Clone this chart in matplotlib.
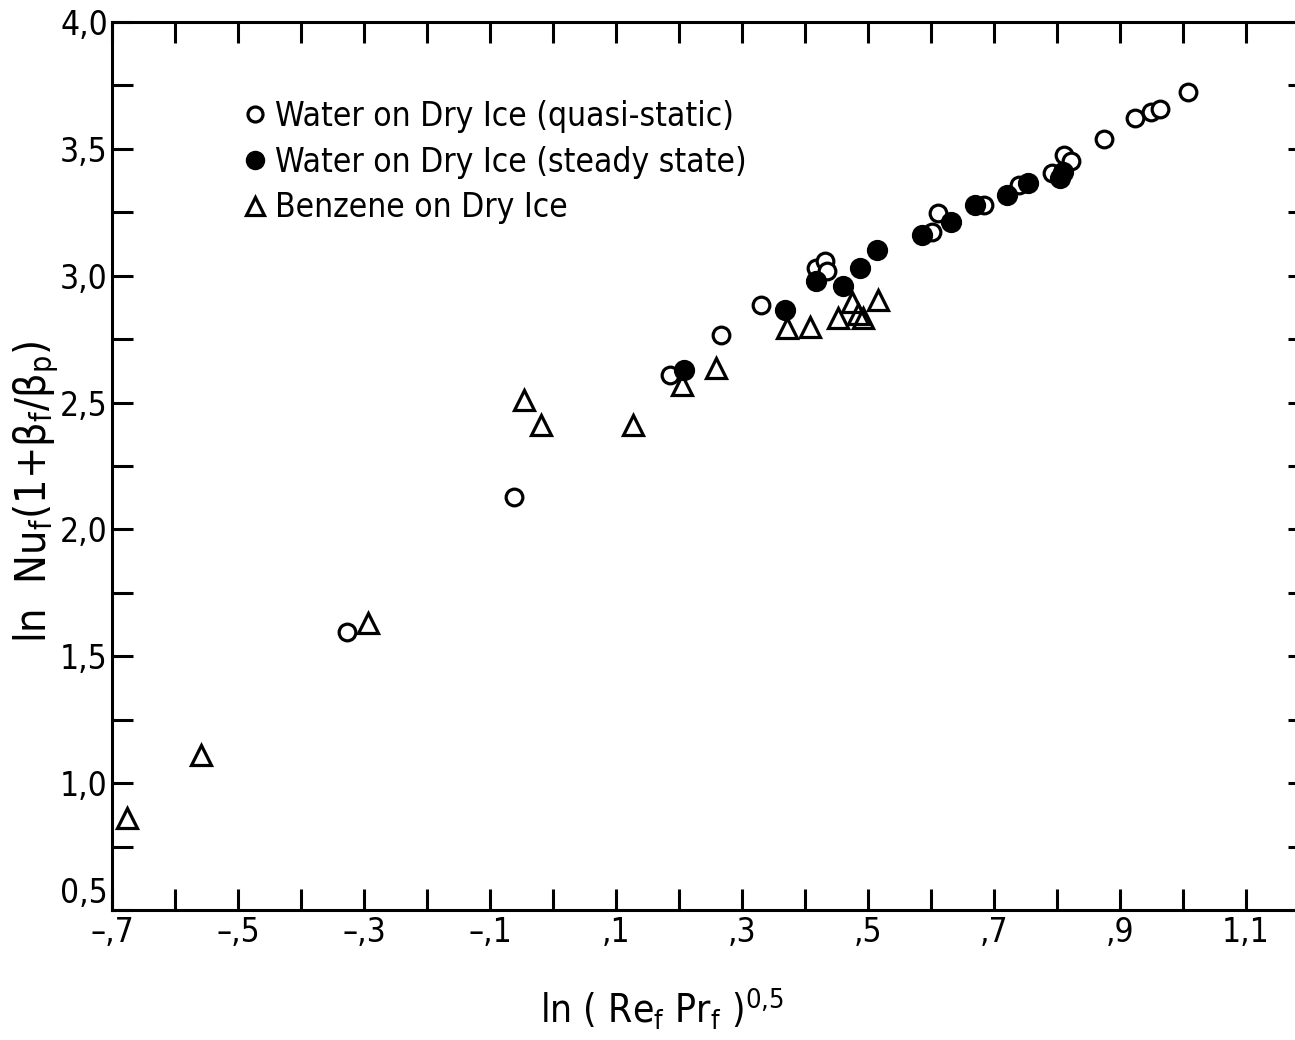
import numpy as np
import matplotlib
matplotlib.use("Agg")
import matplotlib.pyplot as plt
from matplotlib.ticker import MultipleLocator, FixedLocator, FixedFormatter

# water on dry ice, quasi-static (open circles)
qs_x = [-0.327, -0.062, 0.186, 0.267, 0.330, 0.417, 0.432, 0.435, 0.602, 0.611,
        0.684, 0.740, 0.792, 0.811, 0.822, 0.875, 0.924, 0.949, 0.963, 1.008]
qs_y = [1.596, 2.128, 2.609, 2.766, 2.885, 3.030, 3.058, 3.020, 3.172, 3.247,
        3.279, 3.358, 3.405, 3.476, 3.452, 3.539, 3.622, 3.645, 3.657, 3.724]

# water on dry ice, steady state (filled circles)
ss_x = [0.208, 0.368, 0.417, 0.460, 0.487, 0.514, 0.586, 0.632, 0.670, 0.721,
        0.754, 0.805, 0.810]
ss_y = [2.628, 2.865, 2.979, 2.959, 3.030, 3.101, 3.160, 3.212, 3.279, 3.318,
        3.365, 3.385, 3.410]

# benzene on dry ice (triangles)
bz_x = [-0.676, -0.559, -0.294, -0.046, -0.019, 0.127, 0.205, 0.259, 0.371,
        0.408, 0.452, 0.475, 0.484, 0.492, 0.516]
bz_y = [0.862, 1.111, 1.631, 2.510, 2.411, 2.411, 2.569, 2.636, 2.794,
        2.798, 2.833, 2.896, 2.849, 2.833, 2.904]

xtick_vals = [-0.7, -0.5, -0.3, -0.1, 0.1, 0.3, 0.5, 0.7, 0.9, 1.1]
xtick_labels = ["–,7", "–,5", "–,3", "–,1", ",1", ",3", ",5", ",7", ",9", "1,1"]
ytick_vals = [0.5, 1.0, 1.5, 2.0, 2.5, 3.0, 3.5, 4.0]
ytick_labels = ["0,5", "1,0", "1,5", "2,0", "2,5", "3,0", "3,5", "4,0"]

legend_labels = ["Water on Dry Ice (quasi-static)",
                 "Water on Dry Ice (steady state)",
                 "Benzene on Dry Ice"]

plt.rcParams["font.family"] = ["DejaVu Sans"]
plt.rcParams["font.stretch"] = "condensed"
plt.rcParams["mathtext.fontset"] = "custom"
plt.rcParams["mathtext.rm"] = "DejaVu Sans:stretch=condensed"
plt.rcParams["mathtext.it"] = "DejaVu Sans:stretch=condensed"

W, H = 1295, 1040
fig = plt.figure(figsize=(W / 100, H / 100), dpi=100)
ax = fig.add_axes([112 / W, 1 - 910 / H, (1309 - 112) / W, (910 - 22) / H])

lw = 2.3
ax.plot(qs_x, qs_y, "o", ms=12, mfc="white", mec="black", mew=lw, ls="none",
        label=legend_labels[0])
ax.plot(ss_x, ss_y, "o", ms=13, mfc="black", mec="black", mew=lw, ls="none",
        label=legend_labels[1])
ax.plot(bz_x, bz_y, "^", ms=15, mfc="none", mec="black", mew=lw, ls="none",
        label=legend_labels[2])

ax.set_xlim(-0.7, 1.2)
ax.set_ylim(0.5, 4.0)

for s in ax.spines.values():
    s.set_linewidth(2.2)

ax.xaxis.set_major_locator(FixedLocator(xtick_vals))
ax.xaxis.set_major_formatter(FixedFormatter(xtick_labels))
ax.xaxis.set_minor_locator(MultipleLocator(0.1))
ax.yaxis.set_major_locator(FixedLocator(ytick_vals))
ax.yaxis.set_major_formatter(FixedFormatter(ytick_labels))
ax.yaxis.set_minor_locator(MultipleLocator(0.25))

ax.tick_params(which="both", direction="in", top=True, right=True,
               width=2.2, labelsize=24)
ax.tick_params(axis="x", which="both", length=15, pad=4)
ax.tick_params(axis="y", which="both", length=15, pad=3)

fig.canvas.draw()
# corner labels: "0,5" sits a bit above the x axis, "–,7" centred on its tick
ax.get_yticklabels()[0].set_verticalalignment("bottom")
ax.get_xticklabels()[0].set_horizontalalignment("center")

leg = ax.legend(loc="upper left", bbox_to_anchor=(245 / W, 1 - 100 / H),
                bbox_transform=fig.transFigure, frameon=False, fontsize=24,
                handlelength=0.6, handletextpad=0.3, labelspacing=0.38,
                borderaxespad=0, borderpad=0, markerscale=0.9)

fig.text(662 / W, 1 - 1008 / H,
         r"ln ( Re$_\mathrm{f}$ Pr$_\mathrm{f}$ )$^{0{,}5}$",
         ha="center", va="center", fontsize=28)
fig.text(36 / W, 1 - 492 / H,
         r"ln  Nu$_\mathrm{f}$(1+β$_\mathrm{f}$/β$_\mathrm{p}$)",
         ha="center", va="center", rotation=90, fontsize=31)

fig.savefig("out.png", dpi=100)
